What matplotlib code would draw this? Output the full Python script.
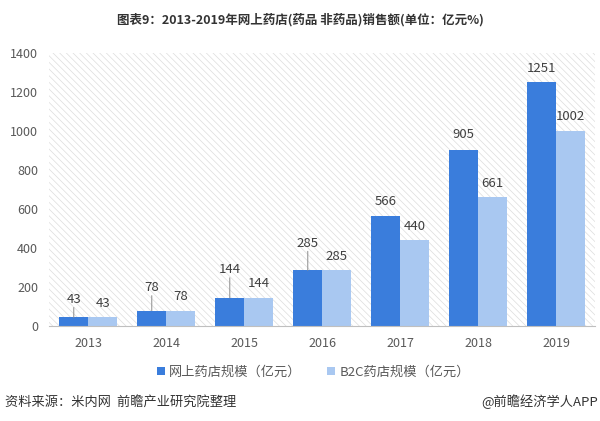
import matplotlib.pyplot as plt
from matplotlib.patches import Rectangle
import numpy as np

plt.rcParams['font.family'] = ['Noto Sans CJK SC', 'DejaVu Sans']
plt.rcParams['hatch.linewidth'] = 0.5

years = ['2013', '2014', '2015', '2016', '2017', '2018', '2019']
online = [43, 78, 144, 285, 566, 905, 1251]
b2c = [43, 78, 144, 285, 440, 661, 1002]
series_names = ['网上药店规模（亿元）', 'B2C药店规模（亿元）']

# label lift above the dark bars, in pixels (small ones get a leader line)
dark_lift = [18, 23, 28, 27, 14, 15, 14]

dark = '#3A7DDC'
light = '#A9C8F1'

fig = plt.figure(figsize=(6, 4.21), dpi=100)
ax = fig.add_axes([0.082, 0.226, 0.910, 0.648])

bg = Rectangle((0, 0), 1, 1, transform=ax.transAxes, facecolor='white',
               edgecolor='#DDDDDD', hatch='\\' * 5, lw=0, zorder=0)
ax.add_patch(bg)

x = np.arange(len(years))
w = 0.37
b1 = ax.bar(x - w / 2, online, w, color=dark, zorder=2, label=series_names[0])
b2 = ax.bar(x + w / 2, b2c, w, color=light, zorder=2, label=series_names[1])

for i, v in enumerate(online):
    lift = dark_lift[i]
    ax.annotate(str(v), (x[i] - w / 2, v), xytext=(0, lift), textcoords='offset pixels',
                ha='center', va='center', fontsize=9.5, color='#404040', zorder=4)
    if lift > 16:
        ax.annotate('', (x[i] - w / 2, v), xytext=(0, lift - 8), textcoords='offset pixels',
                    arrowprops=dict(arrowstyle='-', color='#8C8C8C', lw=0.7,
                                    shrinkA=0, shrinkB=0), zorder=3)
for i, v in enumerate(b2c):
    ax.annotate(str(v), (x[i] + w / 2, v), xytext=(0, 14), textcoords='offset pixels',
                ha='center', va='center', fontsize=9.5, color='#404040', zorder=4)

ax.set_xlim(-0.5, len(years) - 0.5)
ax.set_ylim(0, 1400)
ax.set_yticks(range(0, 1401, 200))
ax.set_xticks(x)
ax.set_xticklabels(years)
ax.tick_params(axis='both', length=0, labelsize=9, labelcolor='#595959')
ax.tick_params(axis='y', pad=8)
ax.tick_params(axis='x', pad=8)
for s in ['top', 'right', 'left']:
    ax.spines[s].set_visible(False)
ax.spines['bottom'].set_color('#BFBFBF')
ax.spines['bottom'].set_zorder(3)

fig.legend(handles=[b1, b2], loc='center', bbox_to_anchor=(0.522, 0.116), ncol=2,
           frameon=False, fontsize=9.5, handlelength=0.6, handleheight=0.6,
           handletextpad=0.3, columnspacing=2.0, labelcolor='#595959')

fig.text(0.5, 0.954, '图表9：2013-2019年网上药店(药品 非药品)销售额(单位：亿元%)',
         ha='center', va='center', fontsize=9, fontweight='bold', color='#333333')
fig.text(0.008, 0.045, '资料来源：米内网  前瞻产业研究院整理', ha='left', va='center',
         fontsize=9.5, color='#333333')
fig.text(0.997, 0.045, '@前瞻经济学人APP', ha='right', va='center',
         fontsize=9.5, color='#333333')

fig.savefig('out.png', dpi=100)
